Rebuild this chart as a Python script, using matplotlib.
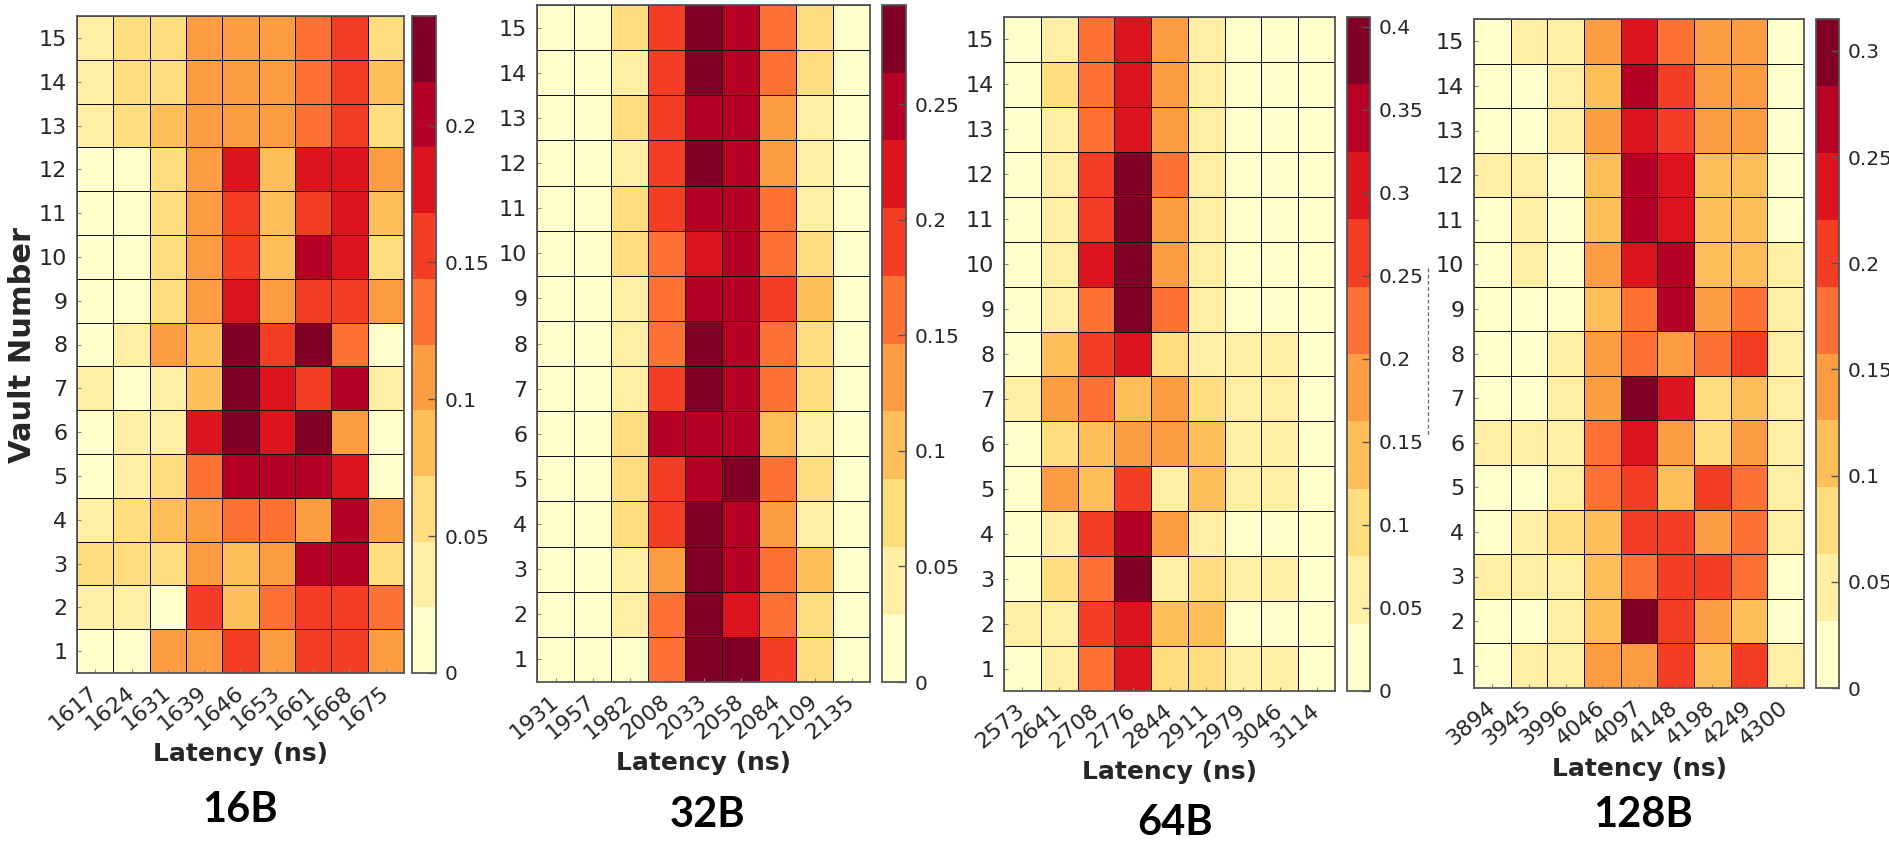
import numpy as np
import matplotlib
matplotlib.use('Agg')
import matplotlib.pyplot as plt
from matplotlib.lines import Line2D

W, H, DPI = 1889, 842, 100

# rows listed from vault 15 (top) down to vault 1 (bottom)
vaults = list(range(15, 0, -1))

lat_16b = ['1617', '1624', '1631', '1639', '1646', '1653', '1661', '1668', '1675']
lat_32b = ['1931', '1957', '1982', '2008', '2033', '2058', '2084', '2109', '2135']
lat_64b = ['2573', '2641', '2708', '2776', '2844', '2911', '2979', '3046', '3114']
lat_128b = ['3894', '3945', '3996', '4046', '4097', '4148', '4198', '4249', '4300']

prob_16b = [
    [.036, .060, .060, .108, .108, .108, .132, .156, .060],
    [.036, .060, .060, .108, .108, .108, .132, .156, .084],
    [.036, .060, .084, .108, .108, .108, .132, .156, .060],
    [.012, .012, .060, .108, .180, .084, .180, .180, .108],
    [.012, .012, .060, .108, .156, .084, .156, .180, .084],
    [.012, .012, .060, .108, .156, .084, .204, .180, .060],
    [.012, .012, .060, .108, .180, .108, .156, .156, .108],
    [.012, .036, .108, .084, .228, .156, .228, .132, .012],
    [.036, .012, .036, .084, .228, .180, .156, .204, .036],
    [.012, .036, .036, .180, .228, .180, .228, .108, .012],
    [.012, .036, .060, .132, .204, .204, .204, .180, .012],
    [.036, .060, .084, .108, .132, .132, .108, .204, .108],
    [.060, .060, .060, .108, .084, .108, .204, .204, .060],
    [.036, .036, .012, .156, .084, .132, .156, .156, .132],
    [.012, .012, .108, .108, .156, .108, .156, .156, .108],
]

prob_32b = [
    [.015, .015, .073, .190, .278, .249, .161, .073, .015],
    [.015, .015, .044, .190, .278, .249, .161, .073, .015],
    [.015, .015, .073, .190, .249, .249, .132, .044, .015],
    [.015, .015, .044, .190, .278, .249, .132, .044, .015],
    [.015, .015, .073, .190, .249, .249, .161, .044, .015],
    [.015, .015, .073, .161, .220, .249, .161, .073, .015],
    [.015, .015, .044, .161, .249, .249, .190, .103, .015],
    [.015, .015, .044, .161, .278, .249, .161, .073, .015],
    [.015, .015, .044, .190, .278, .249, .161, .073, .015],
    [.015, .015, .073, .249, .249, .249, .103, .044, .015],
    [.015, .015, .073, .190, .249, .278, .161, .073, .015],
    [.015, .015, .073, .190, .278, .249, .132, .044, .015],
    [.015, .015, .044, .132, .278, .249, .161, .103, .015],
    [.015, .015, .044, .161, .278, .220, .161, .073, .015],
    [.015, .015, .015, .161, .278, .278, .190, .073, .015],
]

prob_64b = [
    [.020, .061, .223, .304, .183, .061, .020, .020, .020],
    [.020, .101, .223, .304, .183, .061, .020, .020, .020],
    [.020, .061, .223, .304, .183, .061, .020, .020, .020],
    [.020, .061, .264, .386, .223, .061, .020, .020, .020],
    [.020, .061, .264, .386, .183, .061, .020, .020, .020],
    [.020, .061, .304, .386, .183, .061, .020, .020, .020],
    [.020, .061, .223, .386, .223, .061, .020, .020, .020],
    [.020, .142, .264, .304, .101, .061, .061, .061, .020],
    [.061, .183, .223, .142, .183, .101, .061, .061, .020],
    [.020, .101, .142, .183, .183, .142, .061, .061, .020],
    [.020, .183, .142, .264, .061, .142, .061, .061, .020],
    [.020, .061, .264, .345, .183, .061, .020, .020, .020],
    [.020, .101, .223, .386, .061, .101, .061, .061, .020],
    [.061, .061, .264, .304, .142, .142, .020, .020, .020],
    [.020, .061, .223, .304, .101, .101, .061, .061, .020],
]

prob_128b = [
    [.016, .047, .047, .142, .236, .173, .142, .142, .016],
    [.016, .016, .047, .110, .268, .205, .142, .142, .016],
    [.016, .016, .047, .142, .236, .205, .142, .142, .016],
    [.047, .047, .016, .110, .268, .236, .110, .110, .016],
    [.016, .047, .016, .110, .268, .236, .110, .110, .016],
    [.016, .047, .016, .142, .236, .268, .110, .110, .047],
    [.016, .016, .016, .110, .173, .268, .142, .173, .047],
    [.016, .016, .047, .142, .173, .142, .173, .205, .047],
    [.016, .016, .047, .142, .299, .236, .079, .110, .047],
    [.047, .047, .047, .173, .236, .142, .079, .142, .047],
    [.016, .016, .047, .173, .205, .110, .205, .173, .047],
    [.016, .047, .079, .110, .205, .205, .142, .173, .047],
    [.047, .047, .047, .110, .173, .205, .205, .173, .016],
    [.016, .016, .047, .110, .299, .205, .142, .110, .016],
    [.016, .047, .047, .142, .142, .205, .110, .205, .047],
]

sizes = ['16B', '32B', '64B', '128B']
cbar_max = [0.24, 0.293, 0.406, 0.315]
cbar_ticks = [
    [0, 0.05, 0.1, 0.15, 0.2],
    [0, 0.05, 0.1, 0.15, 0.2, 0.25],
    [0, 0.05, 0.1, 0.15, 0.2, 0.25, 0.3, 0.35, 0.4],
    [0, 0.05, 0.1, 0.15, 0.2, 0.25, 0.3],
]

# layout in pixels: heatmap (left, top, right, bottom), colorbar (left, right), title centre
heat_px = [(77, 16, 404, 673), (537, 5, 870, 682), (1004, 17, 1335, 691), (1474, 19, 1804, 688)]
cbar_px = [(412, 436), (882, 906), (1347, 1370), (1816, 1839)]
title_px = [(240, 810), (707, 815), (1175, 823), (1643, 815)]

cmap = plt.get_cmap('YlOrRd', 10)
TXT = '#262626'
FRAME = '#555555'


def rect(left, top, right, bottom):
    return [left / W, 1 - bottom / H, (right - left) / W, (bottom - top) / H]


fig = plt.figure(figsize=(W / DPI, H / DPI), dpi=DPI)

for i, (lats, vals) in enumerate(zip([lat_16b, lat_32b, lat_64b, lat_128b],
                                     [prob_16b, prob_32b, prob_64b, prob_128b])):
    l, t, r, b = heat_px[i]
    ax = fig.add_axes(rect(l, t, r, b))
    mesh = ax.pcolormesh(np.array(vals), cmap=cmap, vmin=0, vmax=cbar_max[i],
                         edgecolors='#111111', linewidth=0.7)
    ax.set_xlim(0, len(lats))
    ax.set_ylim(len(vaults), 0)
    ax.set_xticks(np.arange(len(lats)) + 0.5)
    ax.set_xticklabels(lats, rotation=40, ha='right', va='center', rotation_mode='anchor')
    ax.set_yticks(np.arange(len(vaults)) + 0.5)
    ax.set_yticklabels([str(v) for v in vaults])
    ax.tick_params(direction='in', length=3, width=0.8, color='#888888',
                   labelsize=16, labelcolor=TXT)
    ax.tick_params(axis='x', pad=12)
    ax.tick_params(axis='y', pad=7)
    for sp in ax.spines.values():
        sp.set_color(FRAME)
        sp.set_linewidth(1.3)
    ax.annotate('Latency (ns)', xy=(0.5, 0), xycoords='axes fraction',
                xytext=(0, -81 * 72 / DPI), textcoords='offset points',
                ha='center', va='center', fontsize=18, fontweight='bold', color=TXT)

    cl, cr = cbar_px[i]
    cax = fig.add_axes(rect(cl, t, cr, b))
    cb = fig.colorbar(mesh, cax=cax, ticks=cbar_ticks[i])
    cb.ax.set_yticklabels([f'{v:g}' for v in cbar_ticks[i]])
    cb.ax.tick_params(direction='in', length=6, width=1, color=FRAME,
                      labelsize=14.5, labelcolor=TXT, pad=6)
    cb.outline.set_edgecolor(FRAME)
    cb.outline.set_linewidth(1.3)

    tx, ty = title_px[i]
    fig.text(tx / W, 1 - ty / H, sizes[i], ha='center', va='center',
             fontsize=30, fontweight='bold', family=['Lato', 'DejaVu Sans'])

fig.text(23 / W, 1 - 345 / H, 'Vault Number', rotation=90, ha='center', va='center',
         fontsize=22, fontweight='bold', color=TXT,
         family=['Liberation Sans Narrow', 'DejaVu Sans'])

# thin dashed stroke left of the 128B panel
fig.add_artist(Line2D([1428 / W, 1428 / W], [1 - 268 / H, 1 - 435 / H],
                      color='#666666', lw=0.9, ls=(0, (3, 2))))

fig.savefig('out.png', dpi=DPI)
